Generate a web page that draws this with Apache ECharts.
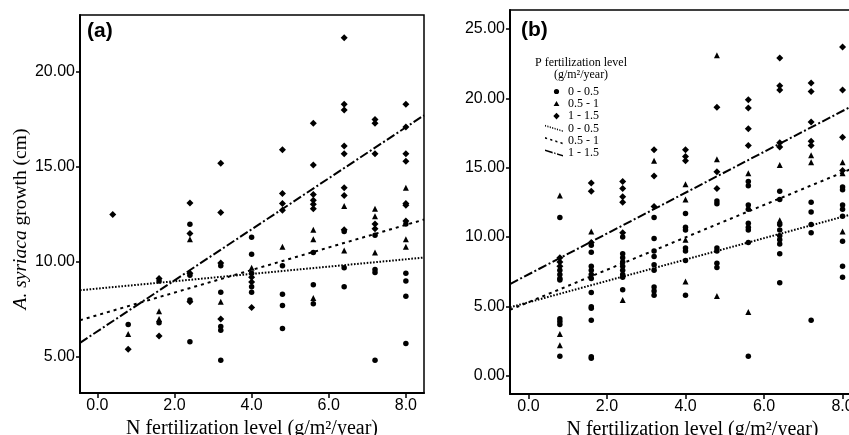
<!DOCTYPE html>
<html><head><meta charset="utf-8">
<script src="https://cdn.jsdelivr.net/npm/echarts@6/dist/echarts.min.js"></script>
<style>html,body{margin:0;padding:0;background:#fff}#c{width:849px;height:435px}</style>
</head><body><div id="c"></div>
<script>
// ---------- tick labels ----------
const xTickLabels = ['0.0', '2.0', '4.0', '6.0', '8.0'];
const yTickLabelsA = ['5.00', '10.00', '15.00', '20.00'];
const yTickLabelsB = ['0.00', '5.00', '10.00', '15.00', '20.00', '25.00'];
const legendNames = ['0 - 0.5', '0.5 - 1', '1 - 1.5'];

// ---------- panel (a) points [N level, growth] ----------
const aCircle = [[0.8,6.7],[1.6,9.0],[1.6,6.8],[2.4,11.98],[2.4,9.3],[2.4,8.0],[2.4,5.8],[3.2,9.8],[3.2,8.4],[3.2,6.6],[3.2,6.4],[3.2,4.83],
  [4.0,11.3],[4.0,10.4],[4.0,9.4],[4.0,8.7],[4.0,8.4],[4.8,9.8],[4.8,8.3],[4.8,7.7],[4.8,6.5],[5.6,10.5],[5.6,8.8],[5.6,7.8],
  [6.4,11.6],[6.4,9.7],[6.4,8.7],[7.2,11.4],[7.2,9.6],[7.2,9.45],[7.2,4.83],[8.0,12.0],[8.0,9.4],[8.0,9.0],[8.0,8.2],[8.0,5.7]];
const aTriangle = [[0.8,6.2],[1.6,7.4],[1.6,7.0],[2.4,11.2],[3.2,7.9],[4.0,9.7],[4.8,10.8],[5.6,11.7],[5.6,11.2],[5.6,8.1],
  [6.4,12.95],[6.4,10.6],[7.2,12.8],[7.2,12.4],[7.2,10.5],[8.0,13.9],[8.0,11.2],[8.0,10.8]];
const aDiamond = [[0.4,12.5],[0.8,5.4],[1.6,9.13],[1.6,6.1],[2.4,13.1],[2.4,11.5],[2.4,9.4],[2.4,7.9],[3.2,15.2],[3.2,12.6],[3.2,9.95],[3.2,7.0],
  [4.0,9.2],[4.0,8.95],[4.0,7.6],[4.8,15.9],[4.8,13.6],[4.8,13.07],[4.8,12.72],[5.6,17.3],[5.6,15.1],[5.6,13.55],[5.6,13.25],[5.6,13.04],[5.6,12.8],
  [6.4,21.8],[6.4,18.3],[6.4,18.0],[6.4,16.1],[6.4,15.7],[6.4,13.9],[6.4,13.5],[6.4,11.7],[7.2,17.5],[7.2,17.3],[7.2,15.7],[7.2,12.0],[7.2,11.75],
  [8.0,18.3],[8.0,17.1],[8.0,15.7],[8.0,15.3],[8.0,13.07],[8.0,12.98],[8.0,12.16]];
// fitted lines (end points)
const aLine0 = [[-0.45,8.51],[8.47,10.23]];
const aLine1 = [[-0.45,6.93],[8.47,12.23]];
const aLine2 = [[-0.45,5.74],[8.47,17.72]];

// ---------- panel (b) points ----------
const bCircle = [[0.8,11.4],[0.8,7.6],[0.8,7.3],[0.8,7.0],[0.8,6.9],[0.8,4.1],[0.8,3.9],[0.8,3.7],[0.8,1.4],
  [1.6,9.4],[1.6,8.9],[1.6,7.9],[1.6,7.6],[1.6,7.3],[1.6,7.0],[1.6,6.0],[1.6,4.97],[1.6,4.86],[1.6,4.0],[1.6,1.37],[1.6,1.25],
  [2.4,10.0],[2.4,8.8],[2.4,8.5],[2.4,8.2],[2.4,7.9],[2.4,7.6],[2.4,7.3],[2.4,7.1],[2.4,6.2],
  [3.2,11.4],[3.2,9.9],[3.2,9.0],[3.2,8.6],[3.2,8.0],[3.2,7.6],[3.2,6.4],[3.2,6.1],[3.2,5.8],
  [4.0,11.7],[4.0,10.7],[4.0,10.5],[4.0,9.2],[4.0,9.0],[4.0,8.3],[4.0,5.8],
  [4.8,12.6],[4.8,12.4],[4.8,9.2],[4.8,9.0],[4.8,8.1],[4.8,7.8],
  [5.6,14.0],[5.6,13.7],[5.6,12.3],[5.6,12.0],[5.6,11.0],[5.6,10.7],[5.6,10.5],[5.6,9.6],[5.6,1.4],
  [6.4,13.3],[6.4,12.7],[6.4,10.9],[6.4,10.5],[6.4,10.1],[6.4,9.8],[6.4,9.5],[6.4,8.8],[6.4,6.7],
  [7.2,12.5],[7.2,11.8],[7.2,10.9],[7.2,10.3],[7.2,4.0],
  [8.0,13.6],[8.0,13.4],[8.0,12.3],[8.0,12.0],[8.0,11.5],[8.0,9.7],[8.0,7.9],[8.0,7.1]];
const bTriangle = [[0.8,13.0],[0.8,3.0],[0.8,2.2],[1.6,10.4],[2.4,5.46],[3.2,15.5],[4.0,13.8],[4.0,12.7],[4.0,9.8],[4.0,6.8],
  [4.8,23.1],[4.8,15.6],[4.8,5.75],[5.6,14.6],[5.6,4.6],[6.4,15.2],[6.4,11.2],[7.2,15.9],[7.2,15.4],[8.0,15.4],[8.0,14.6],[8.0,10.4]];
const bDiamond = [[0.8,8.5],[0.8,8.2],[0.8,7.9],[1.6,13.9],[1.6,13.3],[1.6,9.6],[2.4,14.0],[2.4,13.5],[2.4,12.9],[2.4,12.5],[2.4,10.3],
  [3.2,16.3],[3.2,14.4],[3.2,12.2],[4.0,16.3],[4.0,15.8],[4.0,15.5],[4.8,19.35],[4.8,14.7],[4.8,13.5],
  [5.6,19.9],[5.6,19.3],[5.6,17.8],[5.6,16.6],[6.4,22.9],[6.4,20.9],[6.4,20.6],[6.4,16.8],[6.4,16.5],
  [7.2,21.1],[7.2,20.5],[7.2,18.3],[7.2,16.9],[7.2,16.6],[8.0,23.7],[8.0,20.6],[8.0,17.2],[8.0,14.8]];
const bLine0 = [[-0.47,4.93],[8.47,11.82]];
const bLine1 = [[-0.47,4.75],[8.47,15.2]];
const bLine2 = [[-0.47,6.61],[8.47,19.78]];

// ---------- styling helpers ----------
const SANS = 'Liberation Sans, Arial, sans-serif';
const SERIF = 'Liberation Serif, Times New Roman, serif';
const BOX = 'M0 0L0.01 0L0.01 0.01Z M18 10L17.99 10L17.99 9.99Z ';
const iconCircle = 'path://' + BOX + 'M14.1 5A2.6 2.6 0 1 1 8.9 5A2.6 2.6 0 1 1 14.1 5Z';
const iconTri = 'path://' + BOX + 'M11.5 2.3L14.4 7.3L8.6 7.3Z';
const iconDia = 'path://' + BOX + 'M11.5 1.6L14.7 5L11.5 8.4L8.3 5Z';
function diagIcon(pattern) {
  const x0 = 0, y0 = 2.2, x1 = 18, y1 = 7.8;
  const L = Math.hypot(x1 - x0, y1 - y0), ux = (x1 - x0) / L, uy = (y1 - y0) / L, h = 0.8;
  let d = BOX, s = 0, i = 0;
  while (s < L) {
    const len = pattern[i % pattern.length], gap = pattern[(i + 1) % pattern.length];
    const e = Math.min(L, s + len);
    const ax = x0 + ux * s, ay = y0 + uy * s, bx = x0 + ux * e, by = y0 + uy * e;
    d += `M${ax} ${ay - h}L${bx} ${by - h}L${bx} ${by + h}L${ax} ${ay + h}Z `;
    s = e + gap; i += 2;
  }
  return 'path://' + d;
}
const dotType = [1.6, 1.6], dashType = [3, 4], dashDotType = [9, 2.5, 2, 2.5];

const xTickValues = xTickLabels.map(Number);
function xFmt(v) { const s = v.toFixed(1); return xTickLabels.includes(s) ? s : ''; }
function yFmt(list) { return v => { const s = v.toFixed(2); return list.includes(s) ? s : ''; }; }

function xAxis(gi, min, max, nameStyleExtra) {
  return {
    type: 'value', gridIndex: gi, min: min, max: max, minInterval: 2, maxInterval: 2,
    name: 'N fertilization level (g/m\u00b2/year)', nameLocation: 'middle', nameGap: 17,
    nameTextStyle: Object.assign({ fontFamily: SERIF, fontSize: 20, color: '#000' }, nameStyleExtra || {}),
    axisLine: { show: true, onZero: false, lineStyle: { color: '#000', width: 2 } },
    axisTick: { show: true, length: 5, customValues: xTickValues, lineStyle: { color: '#000', width: 1.5 } },
    axisLabel: { formatter: xFmt, customValues: xTickValues, fontFamily: SANS, fontSize: 16, color: '#000', margin: 5 },
    splitLine: { show: false }
  };
}
function yAxis(gi, min, max, labels, withName) {
  const vals = labels.map(Number);
  const ax = {
    type: 'value', gridIndex: gi, min: min, max: max, minInterval: 5, maxInterval: 5,
    axisLine: { show: true, onZero: false, lineStyle: { color: '#000', width: 2 } },
    axisTick: { show: true, length: 4, customValues: vals, lineStyle: { color: '#000', width: 1.5 } },
    axisLabel: { formatter: yFmt(labels), customValues: vals, fontFamily: SANS, fontSize: 16, color: '#000', margin: 5 },
    splitLine: { show: false }
  };
  if (withName) {
    ax.name = '{i|A. syriaca} growth (cm)';
    ax.nameLocation = 'middle';
    ax.nameGap = 49;
    ax.nameTextStyle = { fontFamily: SERIF, fontSize: 19.5, color: '#000', padding: [0, 30, 0, 0],
      rich: { i: { fontFamily: SERIF, fontSize: 19.5, fontStyle: 'italic', color: '#000' } } };
  }
  return ax;
}
function scatter(name, gi, data, symbol, size) {
  return { name: name, type: 'scatter', xAxisIndex: gi, yAxisIndex: gi, data: data, symbol: symbol, symbolSize: size,
    itemStyle: { color: '#000', opacity: 1 }, z: 3, silent: true };
}
function fitLine(name, gi, data, type) {
  return { name: name, type: 'line', xAxisIndex: gi, yAxisIndex: gi, data: data, showSymbol: false, symbol: 'none',
    lineStyle: { color: '#000', width: 2, type: type }, itemStyle: { color: '#000' }, z: 2, silent: true };
}

const chart = echarts.init(document.getElementById('c'), null, { renderer: 'canvas' });
chart.setOption({
  animation: false,
  backgroundColor: '#fff',
  grid: [
    { left: 80, top: 15, right: 425, bottom: 42, outerBoundsMode: 'none', containLabel: false, show: true, borderColor: '#000', borderWidth: 1.5, backgroundColor: 'transparent' },
    { left: 510, top: 10, right: -12, bottom: 41, outerBoundsMode: 'none', containLabel: false, show: true, borderColor: '#000', borderWidth: 1.5, backgroundColor: 'transparent' }
  ],
  xAxis: [ xAxis(0, -0.45, 8.47), xAxis(1, -0.47, 8.47, { padding: [0, 0, 0, 14] }) ],
  yAxis: [ yAxis(0, 3.1, 23, yTickLabelsA, true), yAxis(1, -1.32, 26.37, yTickLabelsB, false) ],
  legend: {
    orient: 'vertical', left: 540, top: 80.5, itemWidth: 18, itemHeight: 10, itemGap: 0.3, selectedMode: false,
    formatter: n => n.trim(),
    textStyle: { fontFamily: SERIF, fontSize: 12, color: '#000', lineHeight: 12 },
    data: [
      { name: legendNames[0], icon: iconCircle, itemStyle: { color: '#000' } },
      { name: legendNames[1], icon: iconTri, itemStyle: { color: '#000' } },
      { name: legendNames[2], icon: iconDia, itemStyle: { color: '#000' } },
      { name: legendNames[0] + ' ', icon: diagIcon([1.1, 1.4]), itemStyle: { color: '#000' } },
      { name: legendNames[1] + ' ', icon: diagIcon([2.2, 3.2]), itemStyle: { color: '#000' } },
      { name: legendNames[2] + ' ', icon: diagIcon([8, 1.6, 1.4, 1.6]), itemStyle: { color: '#000' } }
    ]
  },
  graphic: [
    { type: 'text', left: 87, top: 21, style: { text: '(a)', font: 'bold 21px ' + SANS, fill: '#000' } },
    { type: 'text', left: 521, top: 20, style: { text: '(b)', font: 'bold 21px ' + SANS, fill: '#000' } },
    { type: 'text', x: 581, y: 57.5, style: { text: 'P fertilization level\n(g/m\u00b2/year)', font: '12px ' + SERIF,
      fill: '#000', align: 'center', verticalAlign: 'top', lineHeight: 11.5 } }
  ],
  series: [
    scatter(legendNames[0], 0, aCircle, 'circle', 5.5),
    scatter(legendNames[1], 0, aTriangle, 'triangle', 6),
    scatter(legendNames[2], 0, aDiamond, 'diamond', 7),
    fitLine(legendNames[0] + ' ', 0, aLine0, dotType),
    fitLine(legendNames[1] + ' ', 0, aLine1, dashType),
    fitLine(legendNames[2] + ' ', 0, aLine2, dashDotType),
    scatter(legendNames[0], 1, bCircle, 'circle', 5.5),
    scatter(legendNames[1], 1, bTriangle, 'triangle', 6),
    scatter(legendNames[2], 1, bDiamond, 'diamond', 7),
    fitLine(legendNames[0] + ' ', 1, bLine0, dotType),
    fitLine(legendNames[1] + ' ', 1, bLine1, dashType),
    fitLine(legendNames[2] + ' ', 1, bLine2, dashDotType)
  ]
});
</script></body></html>
